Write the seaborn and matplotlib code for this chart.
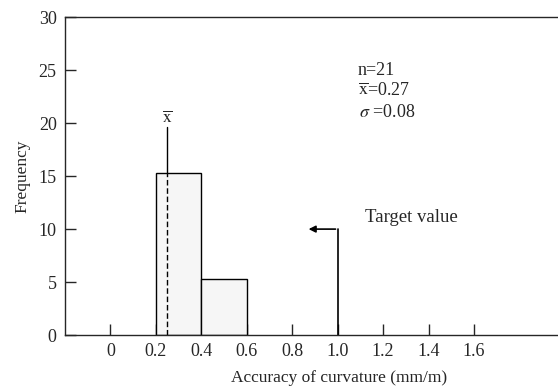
import matplotlib
matplotlib.use("Agg")
import matplotlib.pyplot as plt
import seaborn as sns
import numpy as np

# Data
bin_edges = [0.2, 0.4, 0.6]
bin_centers = [0.3, 0.5]
frequencies = [15.3, 5.3]
mean_line_x = 0.25
mean_line_top = 19.6
target_value = 1.0
target_arrow_y = 10
target_arrow_end = 0.86
xticks = [0, 0.2, 0.4, 0.6, 0.8, 1.0, 1.2, 1.4, 1.6]
xtick_labels = ["0", "0.2", "0.4", "0.6", "0.8", "1.0", "1.2", "1.4", "1.6"]
yticks = [0, 5, 10, 15, 20, 25, 30]

sns.set_style("ticks")
plt.rcParams['font.family'] = ['Liberation Serif', 'DejaVu Serif']
plt.rcParams['mathtext.fontset'] = 'stix'

fig = plt.figure(figsize=(5.58, 3.87), dpi=100)
ax = fig.add_axes([0.1165, 0.134, 0.8835, 0.822])

sns.histplot(x=bin_centers, weights=frequencies, bins=bin_edges, ax=ax,
             color="#f6f6f6", edgecolor="black", linewidth=1.0, alpha=1)

# mean line
ax.plot([mean_line_x, mean_line_x], [0, frequencies[0]], color="black", lw=1.0, ls=(0, (4, 2)))
ax.plot([mean_line_x, mean_line_x], [frequencies[0], mean_line_top], color="black", lw=1.0)
ax.text(mean_line_x, mean_line_top + 0.1, r"$\overline{\mathrm{x}}$", ha="center", va="bottom", fontsize=12.5)

# target value
ax.plot([target_value, target_value], [0, target_arrow_y], color="black", lw=1.2)
ax.annotate("", xy=(target_arrow_end, target_arrow_y), xytext=(target_value + 0.003, target_arrow_y),
            arrowprops=dict(arrowstyle="-|>", color="black", lw=1.2, mutation_scale=10))
ax.text(1.12, target_arrow_y + 1.1, "Target value", fontsize=13.5, ha="left", va="center")

# stats
ax.text(1.09, 25.0, "n=21", fontsize=13, ha="left", va="center")
ax.text(1.09, 23.1, r"$\overline{\mathrm{x}}$=0.27", fontsize=13, ha="left", va="center")
ax.text(1.095, 21.0, r"$\sigma$ =0.08", fontsize=13, ha="left", va="center")

ax.set_xlim(-0.2, 1.97)
ax.set_ylim(0, 30)
ax.set_xticks(xticks)
ax.set_xticklabels(xtick_labels)
ax.set_yticks(yticks)
ax.tick_params(axis="both", direction="in", length=8, width=1, labelsize=13, pad=6)
ax.set_xlabel("Accuracy of curvature (mm/m)", fontsize=12.5)
ax.xaxis.set_label_coords(0.556, -0.11)
ax.set_ylabel("Frequency", fontsize=12.5, labelpad=6)
ax.spines["right"].set_visible(False)
for s in ["left", "top", "bottom"]:
    ax.spines[s].set_linewidth(1.0)

fig.savefig("out.png", dpi=100)
